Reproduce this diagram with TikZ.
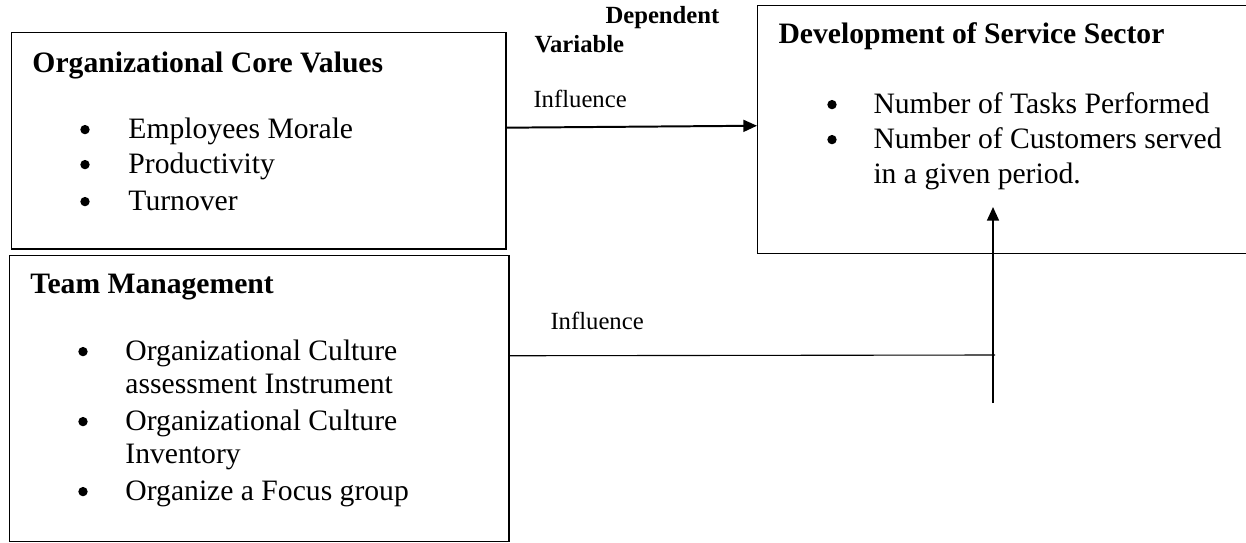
\documentclass[tikz,border=0pt]{standalone}
\usepackage{fontspec}
\setmainfont{Liberation Serif}
\usetikzlibrary{arrows.meta}
\begin{document}
\begin{tikzpicture}[x=0.405pt,y=-0.405pt,
  box/.style={draw,line width=0.6pt,inner sep=0,anchor=north west},
  txt/.style={anchor=base west,inner sep=0,font=\fontsize{12}{14}\selectfont},
  hd/.style={anchor=base west,inner sep=0,font=\fontsize{12}{14}\selectfont\bfseries},
  lbl/.style={anchor=base west,inner sep=0,font=\fontsize{10}{12}\selectfont},
  blbl/.style={anchor=base west,inner sep=0,font=\fontsize{10}{12}\selectfont\bfseries},
  bul/.style={circle,fill,inner sep=0,minimum size=3.8pt,yshift=3.4pt},
  arrow/.style={line width=0.8pt,-{Triangle[length=5.5pt,width=4.8pt]}},
  thin/.style={line width=0.45pt}]
\useasboundingbox (0,0) rectangle (1246,542);

% boxes
\node[box,minimum width=200.1pt,minimum height=87.5pt] (cv) at (11,32) {};
\node[box,minimum width=202.1pt,minimum height=115.8pt] (tm) at (9,255) {};
\node[box,minimum width=201pt,minimum height=100.4pt] (ds) at (757,5) {};

% box 1 text
\node[hd] (cvh) at (32,72) {Organizational Core Values};
\node[bul] (cvb1) at (85,138) {};
\node[txt] (cvt1) at (128,138) {Employees Morale};
\node[bul] (cvb2) at (85,173) {};
\node[txt] (cvt2) at (128,173) {Productivity};
\node[bul] (cvb3) at (85,210) {};
\node[txt] (cvt3) at (128,210) {Turnover};

% box 2 text
\node[hd] (tmh) at (30,293) {Team Management};
\node[bul] (tmb1) at (83,360) {};
\node[txt] (tmt1) at (125,360) {Organizational Culture};
\node[txt] (tmt1b) at (125,393) {assessment Instrument};
\node[bul] (tmb2) at (83,430) {};
\node[txt] (tmt2) at (125,430) {Organizational Culture};
\node[txt] (tmt2b) at (125,463) {Inventory};
\node[bul] (tmb3) at (83,500) {};
\node[txt] (tmt3) at (125,500) {Organize a Focus group};

% box 3 text
\node[hd] (dsh) at (778,43) {Development of Service Sector};
\node[bul] (dsb1) at (832,113) {};
\node[txt] (dst1) at (873,113) {Number of Tasks Performed};
\node[bul] (dsb2) at (832,148) {};
\node[txt] (dst2) at (873,148) {Number of Customers served};
\node[txt] (dst2b) at (873,183) {in a given period.};

% labels
\node[blbl] (dep) at (605,23) {Dependent};
\node[blbl] (var) at (534,52) {Variable};
\node[lbl] (inf1) at (533,107) {Influence};
\node[lbl] (inf2) at (550,329) {Influence};

% connectors
\draw[arrow] ([yshift=5.3pt]cv.east) -- ([yshift=1.6pt]ds.west);
\coordinate (hend) at (995,355);
\coordinate (vbot) at (993,403);
\coordinate (vtip) at (993,207);
\draw[thin] ([yshift=17.4pt]tm.east) -- (hend);
\draw[arrow] (vbot) -- (vtip);
\end{tikzpicture}
\end{document}
